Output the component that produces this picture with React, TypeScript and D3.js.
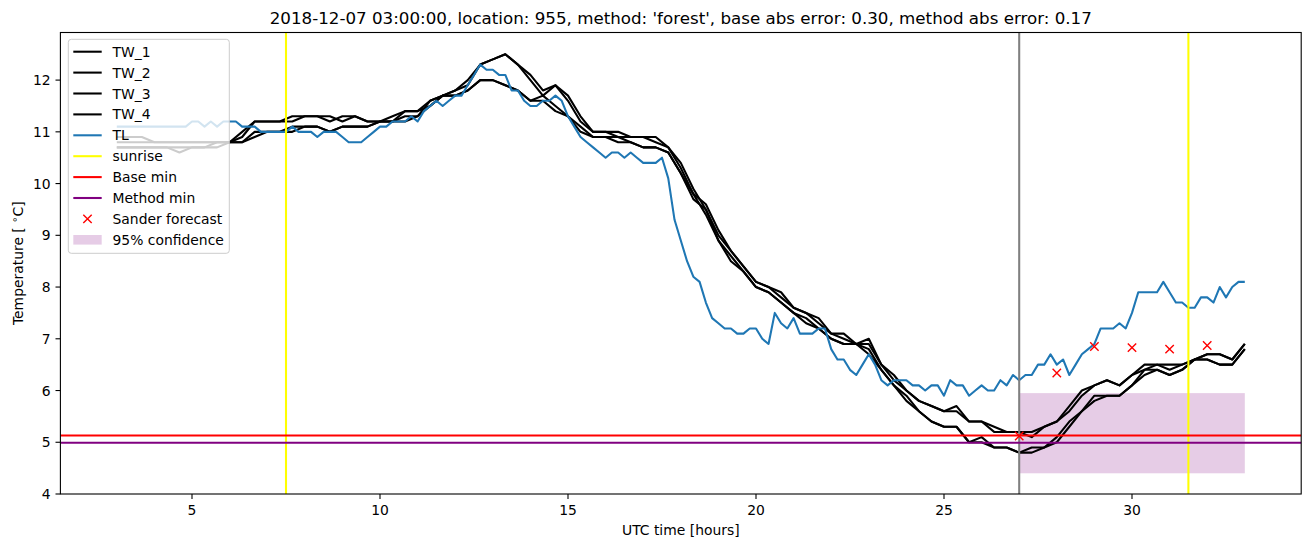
import React, { useEffect, useRef } from "react";
import * as d3 from "d3";

// water temperatures sampled every 20 minutes from hour 3
const START_HOUR = 3;
const TW_STEP = 1 / 3;
// air temperature sampled every 10 minutes from hour 3
const TL_STEP = 1 / 6;

const TW_1 = [
  10.9, 10.9, 10.9, 10.8, 10.8, 10.8, 10.8, 10.8, 10.8, 10.8,
  11.0, 11.2, 11.2, 11.2, 11.3, 11.3, 11.3, 11.2, 11.3, 11.3,
  11.2, 11.2, 11.2, 11.4, 11.4, 11.6, 11.7, 11.8, 11.9, 12.3,
  12.4, 12.5, 12.3, 12.0, 11.7, 11.9, 11.7, 11.3, 11.0, 11.0,
  11.0, 10.9, 10.9, 10.9, 10.7, 10.3, 9.8, 9.6, 9.1, 8.7,
  8.4, 8.1, 8.0, 7.9, 7.6, 7.5, 7.4, 7.1, 7.1, 6.9,
  7.0, 6.5, 6.3, 6.0, 5.8, 5.7, 5.6, 5.7, 5.4, 5.4,
  5.3, 5.2, 5.2, 5.1, 5.3, 5.4, 5.7, 6.0, 6.1, 6.2,
  6.1, 6.3, 6.5, 6.5, 6.4, 6.5, 6.6, 6.7, 6.7, 6.6,
  6.9,
];
const TW_2 = [
  10.8, 10.8, 10.8, 10.8, 10.8, 10.8, 10.8, 10.8, 10.8, 10.8,
  10.9, 11.2, 11.2, 11.2, 11.2, 11.3, 11.3, 11.3, 11.2, 11.3,
  11.2, 11.2, 11.3, 11.4, 11.4, 11.5, 11.7, 11.8, 12.0, 12.3,
  12.4, 12.5, 12.3, 12.1, 11.8, 11.9, 11.6, 11.2, 11.0, 11.0,
  10.9, 10.9, 10.9, 10.8, 10.7, 10.4, 9.9, 9.5, 9.0, 8.7,
  8.4, 8.1, 8.0, 7.8, 7.6, 7.5, 7.3, 7.1, 7.0, 6.9,
  6.9, 6.5, 6.2, 6.0, 5.8, 5.7, 5.6, 5.6, 5.4, 5.4,
  5.2, 5.2, 5.2, 5.2, 5.3, 5.4, 5.6, 5.9, 6.1, 6.2,
  6.1, 6.3, 6.4, 6.5, 6.5, 6.5, 6.6, 6.7, 6.7, 6.6,
  6.9,
];
const TW_3 = [
  10.7, 10.7, 10.7, 10.7, 10.7, 10.6, 10.7, 10.7, 10.8, 10.8,
  10.8, 11.0, 11.0, 11.0, 11.1, 11.1, 11.1, 11.0, 11.1, 11.1,
  11.1, 11.2, 11.2, 11.3, 11.3, 11.6, 11.7, 11.7, 11.8, 12.0,
  12.0, 11.9, 11.8, 11.6, 11.6, 11.4, 11.3, 11.0, 10.9, 10.9,
  10.8, 10.8, 10.7, 10.7, 10.6, 10.2, 9.7, 9.5, 8.9, 8.6,
  8.3, 8.0, 7.9, 7.7, 7.5, 7.4, 7.2, 7.0, 6.9, 6.9,
  6.7, 6.4, 6.1, 5.8, 5.6, 5.4, 5.3, 5.3, 5.0, 5.1,
  4.9, 4.9, 4.8, 4.9, 4.9, 5.1, 5.4, 5.6, 5.9, 5.9,
  5.9, 6.1, 6.4, 6.4, 6.3, 6.4, 6.6, 6.6, 6.5, 6.5,
  6.8,
];
const TW_4 = [
  10.7, 10.7, 10.7, 10.7, 10.7, 10.7, 10.7, 10.7, 10.7, 10.8,
  10.8, 10.9, 11.0, 11.0, 11.0, 11.1, 11.1, 11.0, 11.1, 11.1,
  11.1, 11.2, 11.2, 11.2, 11.3, 11.5, 11.7, 11.7, 11.8, 12.0,
  12.0, 11.9, 11.8, 11.6, 11.7, 11.5, 11.3, 11.1, 10.9, 10.9,
  10.9, 10.8, 10.7, 10.7, 10.6, 10.2, 9.8, 9.4, 8.9, 8.5,
  8.3, 8.0, 7.9, 7.7, 7.5, 7.3, 7.2, 7.0, 6.9, 6.9,
  6.8, 6.4, 6.1, 5.9, 5.6, 5.4, 5.3, 5.3, 5.0, 5.0,
  4.9, 4.9, 4.8, 4.8, 4.9, 5.0, 5.3, 5.6, 5.8, 5.9,
  5.9, 6.1, 6.3, 6.4, 6.3, 6.4, 6.6, 6.6, 6.5, 6.5,
  6.8,
];
const TL = [
  // 3:00 - 6:50
  11.1, 11.1, 11.1, 11.1, 11.1, 11.1, 11.1, 11.1, 11.1, 11.1, 11.1, 11.1,
  11.2, 11.2, 11.1, 11.2, 11.1, 11.2, 11.2, 11.2, 11.1, 11.1, 11.1, 11.0,
  // 7:00 - 10:50
  11.0, 11.0, 11.0, 11.0, 11.1, 11.0, 11.0, 11.0, 10.9, 11.0, 11.0, 11.0,
  10.9, 10.8, 10.8, 10.8, 10.9, 11.0, 11.1, 11.1, 11.2, 11.2, 11.2, 11.3,
  // 11:00 - 14:50
  11.2, 11.4, 11.5, 11.6, 11.5, 11.6, 11.7, 11.7, 11.9, 12.1, 12.3, 12.2,
  12.2, 12.1, 12.1, 11.8, 11.8, 11.6, 11.5, 11.5, 11.6, 11.6, 11.7, 11.6,
  // 15:00 - 18:50
  11.3, 11.1, 10.9, 10.8, 10.7, 10.6, 10.5, 10.6, 10.6, 10.5, 10.6, 10.5,
  10.4, 10.4, 10.4, 10.5, 10.1, 9.3, 8.9, 8.5, 8.2, 8.1, 7.7, 7.4,
  // 19:00 - 22:50
  7.3, 7.2, 7.2, 7.1, 7.1, 7.2, 7.2, 7.0, 6.9, 7.5, 7.3, 7.2,
  7.4, 7.1, 7.1, 7.1, 7.2, 7.2, 6.8, 6.6, 6.6, 6.4, 6.3, 6.5,
  // 23:00 - 26:50
  6.7, 6.5, 6.2, 6.1, 6.2, 6.2, 6.2, 6.1, 6.1, 6.0, 6.1, 6.1,
  5.9, 6.2, 6.1, 6.1, 5.9, 6.0, 6.1, 6.0, 6.0, 6.2, 6.1, 6.3,
  // 27:00 - 30:50
  6.2, 6.3, 6.3, 6.5, 6.5, 6.7, 6.5, 6.6, 6.3, 6.5, 6.7, 6.8,
  6.9, 7.2, 7.2, 7.2, 7.3, 7.2, 7.5, 7.9, 7.9, 7.9, 7.9, 8.1,
  // 31:00 - 33:00
  7.9, 7.7, 7.7, 7.6, 7.6, 7.8, 7.8, 7.7, 8.0, 7.8, 8.0, 8.1,
  8.1,
];

const SUNRISE_HOURS = [7.5, 31.5];
const FORECAST_HOUR = 27;
const BASE_MIN = 5.13;
const METHOD_MIN = 4.99;
const SANDER_HOURS = [27, 28, 29, 30, 31, 32];
const SANDER_VALUES = [5.12, 6.34, 6.85, 6.83, 6.8, 6.87];
const CONF_HOURS = [27, 33];
const CONF_RANGE = [4.4, 5.95];

const X_TICKS = [5, 10, 15, 20, 25, 30];
const Y_TICKS = [4, 5, 6, 7, 8, 9, 10, 11, 12];

const TITLE =
  "2018-12-07 03:00:00, location: 955, method: 'forest', base abs error: 0.30, method abs error: 0.17";

const WIDTH = 1311;
const HEIGHT = 547;
const LEFT = 60.4;
const RIGHT = 1301.2;
const TOP = 32.5;
const BOTTOM = 494;
const FONT = "DejaVu Sans, sans-serif";
const BLUE = "#1f77b4";
const LW = 2.08;

export default function App() {
  const ref = useRef<SVGSVGElement>(null);

  useEffect(() => {
    const svg = d3.select(ref.current);
    svg.selectAll("*").remove();

    const x = d3.scaleLinear().domain([1.5, 34.5]).range([LEFT, RIGHT]);
    const y = d3.scaleLinear().domain([4, 12.92]).range([BOTTOM, TOP]);

    svg
      .append("defs")
      .append("clipPath")
      .attr("id", "plot-area")
      .append("rect")
      .attr("x", LEFT)
      .attr("y", TOP)
      .attr("width", RIGHT - LEFT)
      .attr("height", BOTTOM - TOP);

    const plot = svg.append("g").attr("clip-path", "url(#plot-area)");

    // 95% confidence band
    plot
      .append("rect")
      .attr("x", x(CONF_HOURS[0]))
      .attr("width", x(CONF_HOURS[1]) - x(CONF_HOURS[0]))
      .attr("y", y(CONF_RANGE[1]))
      .attr("height", y(CONF_RANGE[0]) - y(CONF_RANGE[1]))
      .attr("fill", "purple")
      .attr("fill-opacity", 0.2);

    const lineFor = (step: number) =>
      d3
        .line<number>()
        .x((_, i) => x(START_HOUR + i * step))
        .y((d) => y(d));

    const series = [
      { values: TW_1, step: TW_STEP, color: "black" },
      { values: TW_2, step: TW_STEP, color: "black" },
      { values: TW_3, step: TW_STEP, color: "black" },
      { values: TW_4, step: TW_STEP, color: "black" },
      { values: TL, step: TL_STEP, color: BLUE },
    ];
    series.forEach((s) => {
      plot
        .append("path")
        .attr("d", lineFor(s.step)(s.values))
        .attr("fill", "none")
        .attr("stroke", s.color)
        .attr("stroke-width", LW)
        .attr("stroke-linejoin", "round");
    });

    SUNRISE_HOURS.forEach((h) => {
      plot
        .append("line")
        .attr("x1", x(h))
        .attr("x2", x(h))
        .attr("y1", TOP)
        .attr("y2", BOTTOM)
        .attr("stroke", "yellow")
        .attr("stroke-width", LW);
    });

    plot
      .append("line")
      .attr("x1", x(FORECAST_HOUR))
      .attr("x2", x(FORECAST_HOUR))
      .attr("y1", TOP)
      .attr("y2", BOTTOM)
      .attr("stroke", "gray")
      .attr("stroke-width", LW);

    [
      { v: BASE_MIN, c: "red" },
      { v: METHOD_MIN, c: "purple" },
    ].forEach((h) => {
      plot
        .append("line")
        .attr("x1", LEFT)
        .attr("x2", RIGHT)
        .attr("y1", y(h.v))
        .attr("y2", y(h.v))
        .attr("stroke", h.c)
        .attr("stroke-width", LW);
    });

    const cross = (g: any, cx: number, cy: number) => {
      const r = 4.2;
      g.append("path")
        .attr("d", `M${cx - r},${cy - r}L${cx + r},${cy + r}M${cx - r},${cy + r}L${cx + r},${cy - r}`)
        .attr("stroke", "red")
        .attr("stroke-width", 1.4)
        .attr("fill", "none");
    };
    SANDER_HOURS.forEach((h, i) => cross(plot, x(h), y(SANDER_VALUES[i])));

    // axes frame
    svg
      .append("rect")
      .attr("x", LEFT)
      .attr("y", TOP)
      .attr("width", RIGHT - LEFT)
      .attr("height", BOTTOM - TOP)
      .attr("fill", "none")
      .attr("stroke", "black")
      .attr("stroke-width", 1.1);

    const xAxis = svg.append("g");
    X_TICKS.forEach((t) => {
      xAxis
        .append("line")
        .attr("x1", x(t))
        .attr("x2", x(t))
        .attr("y1", BOTTOM)
        .attr("y2", BOTTOM + 4.9)
        .attr("stroke", "black")
        .attr("stroke-width", 1.1);
      xAxis
        .append("text")
        .attr("x", x(t))
        .attr("y", BOTTOM + 21)
        .attr("text-anchor", "middle")
        .attr("font-family", FONT)
        .attr("font-size", 13.9)
        .text(t);
    });

    const yAxis = svg.append("g");
    Y_TICKS.forEach((t) => {
      yAxis
        .append("line")
        .attr("x1", LEFT)
        .attr("x2", LEFT - 4.9)
        .attr("y1", y(t))
        .attr("y2", y(t))
        .attr("stroke", "black")
        .attr("stroke-width", 1.1);
      yAxis
        .append("text")
        .attr("x", LEFT - 9.8)
        .attr("y", y(t))
        .attr("dy", "0.36em")
        .attr("text-anchor", "end")
        .attr("font-family", FONT)
        .attr("font-size", 13.9)
        .text(t);
    });

    svg
      .append("text")
      .attr("x", (LEFT + RIGHT) / 2)
      .attr("y", 24)
      .attr("text-anchor", "middle")
      .attr("font-family", FONT)
      .attr("font-size", 16.7)
      .text(TITLE);

    svg
      .append("text")
      .attr("x", (LEFT + RIGHT) / 2)
      .attr("y", 535)
      .attr("text-anchor", "middle")
      .attr("font-family", FONT)
      .attr("font-size", 13.9)
      .text("UTC time [hours]");

    const ylab = svg
      .append("text")
      .attr("transform", `translate(23,${(TOP + BOTTOM) / 2}) rotate(-90)`)
      .attr("text-anchor", "middle")
      .attr("font-family", FONT)
      .attr("font-size", 13.9);
    ylab.append("tspan").text("Temperature [ ");
    ylab.append("tspan").attr("font-size", 10).attr("dy", -5).text("\u2218");
    ylab.append("tspan").attr("dy", 5).text("C]");

    // legend
    const legend = svg.append("g");
    legend
      .append("rect")
      .attr("x", 68.3)
      .attr("y", 39.3)
      .attr("width", 161)
      .attr("height", 214)
      .attr("rx", 3)
      .attr("fill", "white")
      .attr("fill-opacity", 0.8)
      .attr("stroke", "#cccccc")
      .attr("stroke-width", 1);

    const entries = [
      { label: "TW_1", kind: "line", color: "black" },
      { label: "TW_2", kind: "line", color: "black" },
      { label: "TW_3", kind: "line", color: "black" },
      { label: "TW_4", kind: "line", color: "black" },
      { label: "TL", kind: "line", color: BLUE },
      { label: "sunrise", kind: "line", color: "yellow" },
      { label: "Base min", kind: "line", color: "red" },
      { label: "Method min", kind: "line", color: "purple" },
      { label: "Sander forecast", kind: "marker", color: "red" },
      { label: "95% confidence", kind: "patch", color: "purple" },
    ];
    entries.forEach((e, i) => {
      const cy = 51.7 + i * 20.9;
      if (e.kind === "line") {
        legend
          .append("line")
          .attr("x1", 73.3)
          .attr("x2", 101.7)
          .attr("y1", cy)
          .attr("y2", cy)
          .attr("stroke", e.color)
          .attr("stroke-width", LW);
      } else if (e.kind === "marker") {
        cross(legend, 87.5, cy);
      } else {
        legend
          .append("rect")
          .attr("x", 73.3)
          .attr("y", cy - 4.8)
          .attr("width", 28.4)
          .attr("height", 9.6)
          .attr("fill", e.color)
          .attr("fill-opacity", 0.2);
      }
      legend
        .append("text")
        .attr("x", 112.5)
        .attr("y", cy)
        .attr("dy", "0.36em")
        .attr("font-family", FONT)
        .attr("font-size", 13.9)
        .text(e.label);
    });
  }, []);

  return (
    <svg
      ref={ref}
      width={WIDTH}
      height={HEIGHT}
      style={{ position: "absolute", left: 0, top: 0, background: "white" }}
    />
  );
}
